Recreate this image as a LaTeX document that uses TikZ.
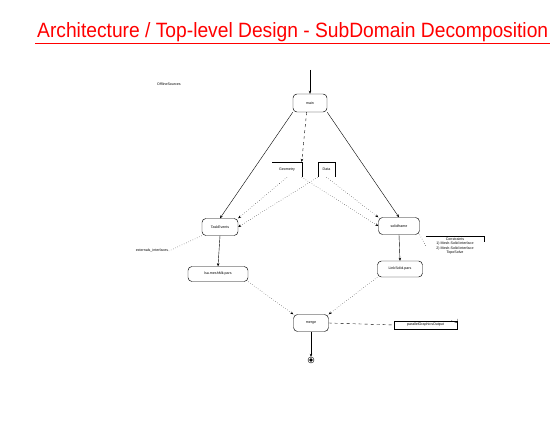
\documentclass[tikz,border=0pt]{standalone}
\usepackage{fontspec}
\setmainfont{Liberation Sans}
\usetikzlibrary{arrows.meta}
\begin{document}
\begin{tikzpicture}[x=1pt,y=-1pt,
  tiny/.style={font=\fontsize{3.6}{4.3}\selectfont},
  act/.style={draw, rounded corners=4pt, line width=0.45pt, inner sep=0.5pt, tiny},
  note/.style={inner sep=0.5pt, tiny, align=center},
  flow/.style={line width=0.4pt, -{Stealth[length=3pt,width=2.5pt]}},
  dotflow/.style={line width=0.4pt, dotted, -{Stealth[length=3pt,width=2.5pt]}},
  dashflow/.style={line width=0.4pt, dashed, -{Stealth[length=3pt,width=2.5pt]}},
  link/.style={line width=0.4pt}]
\useasboundingbox[fill=white] (0,0) rectangle (550,425);

% title
\node[anchor=base west, inner sep=0pt, text=red] (title) at (37,38)
  {\resizebox{511pt}{15pt}{Architecture / Top-level Design - SubDomain Decomposition}};
\coordinate (ulA) at (35,43.5);
\coordinate (ulB) at (550,43.5);
\draw[red, line width=1.8pt] (ulA) -- (ulB);

\node[note] (offline) at (169,84) {OfflineSources};

% activities
\coordinate (init) at (310,70);
\node[act, minimum width=34pt, minimum height=18pt] (start) at (310,103) {main};
\node[act, minimum width=36pt, minimum height=17pt] (left) at (220,227) {TaskEvents};
\node[act, minimum width=60pt, minimum height=15pt] (left2) at (218,274) {lsa.meshMk.pars};
\node[act, minimum width=41pt, minimum height=17pt] (right) at (399,226) {solidframe};
\node[act, minimum width=45pt, minimum height=16pt] (right2) at (400,269) {LinkSolid.pars};
\node[act, minimum width=35pt, minimum height=17pt] (merge) at (311,323) {merge};
\node[circle, draw, line width=0.4pt, minimum size=6pt, inner sep=0pt] (end) at (311,360) {};
\fill (end.center) circle (1.8pt);

% notes / objects
\node[note, minimum width=29pt, minimum height=15pt] (geom) at (287,169.5) {Geometry};
\draw[link] (geom.north west) -- (geom.north east) -- (geom.south east);
\node[note, minimum width=17pt, minimum height=15pt] (data) at (326.5,169.5) {Data};
\draw[link] (data.south west) -- (data.north west) -- (data.north east) -- (data.south east);
\node[note] (ext) at (152,251) {externals\_interfaces};
\node[note, minimum width=58pt, minimum height=20pt] (cons) at (455,246)
  {Constraints\\1) Mesh-Solid interface\\2) Mesh-Solid interface\\TopoSolve};
\draw[link] (cons.north west) -- (cons.north east) -- ++(0,6);
\node[note, draw, line width=0.4pt, minimum width=63pt, minimum height=8pt] (pgo) at (425.5,325) {parallelGraphicsOutput};
\draw[link] ([xshift=-6pt]pgo.north east) -- ++(6pt,-2pt) -- ([yshift=2pt]pgo.north east);

% connectors
\draw[flow] (init) -- (start.north);
\draw[flow] (start.south west) -- (left.north);
\draw[flow] (start.south east) -- (right.north);
\draw[dashflow] (start.250) -- (geom.north east);
\draw[dotflow] (geom.south) -- (left.north east);
\draw[dotflow] (data.south west) -- (left.east);
\draw[dotflow] (geom.south east) -- (right.west);
\draw[dotflow] (data.south) -- (right.north west);
\draw[link, dotted] (left.south west) -- (ext.east);
\draw[link, dotted] (right.south east) -- (cons.west);
\draw[flow] (left.south) -- (left2.north);
\draw[flow] (right.south) -- (right2.north);
\draw[dotflow] (left2.south east) -- (merge.north west);
\draw[dotflow] (right2.south west) -- (merge.north east);
\draw[flow] (merge.south) -- (end.north);
\draw[link, dashed] (merge.east) -- (pgo.west);
\end{tikzpicture}
\end{document}
